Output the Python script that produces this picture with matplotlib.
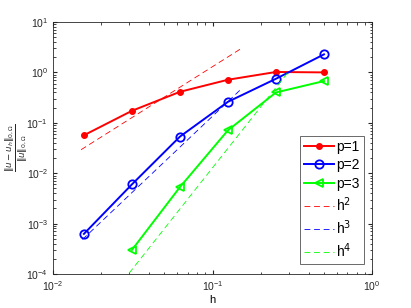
import numpy as np
import matplotlib
matplotlib.use("Agg")
import matplotlib.pyplot as plt

plt.rcParams['font.family'] = ['Liberation Sans', 'DejaVu Sans']
plt.rcParams['mathtext.fontset'] = 'dejavusans'

h = [1/64, 1/32, 1/16, 1/8, 1/4, 1/2]
err_p1 = [0.0566, 0.173, 0.412, 0.715, 1.02, 1.0]
err_p2 = [6.25e-4, 6.0e-3, 0.0532, 0.261, 0.748, 2.28]
h_p3 = [1/32, 1/16, 1/8, 1/4, 1/2]
err_p3 = [3.0e-4, 5.3e-3, 0.0711, 0.40, 0.673]

ref_h2 = [0.015, 0.15]
ref_h3 = [0.0153, 0.153]
ref_h4 = [0.03, 0.3]
ref_c = [130, 135, 128]

fig = plt.figure(figsize=(4.11, 3.08), dpi=100)
ax = fig.add_axes([53/411, 34/308, 319/411, 252/308])

ax.loglog(h, err_p1, '-', color=(1, 0, 0), lw=1.4, marker='o', ms=4, mfc=(1, 0, 0), label='p=1')
ax.loglog(h, err_p2, '-', color=(0, 0, 1), lw=1.4, marker='o', ms=6, mfc='none', mew=1.3, label='p=2')
ax.loglog(h_p3, err_p3, '-', color=(0, 1, 0), lw=1.4, marker='<', ms=6, mfc='none', mew=1.3, label='p=3')

dash = (0, (7, 4.5))
hh = np.array(ref_h2)
ax.loglog(hh, ref_c[0] * hh**2, color=(1, 0, 0), ls=dash, lw=0.6, label='h$^2$')
hh = np.array(ref_h3)
ax.loglog(hh, ref_c[1] * hh**3, color=(0, 0, 1), ls=dash, lw=0.6, label='h$^3$')
hh = np.array(ref_h4)
ax.loglog(hh, ref_c[2] * hh**4, color=(0, 1, 0), ls=dash, lw=0.6, label='h$^4$')

ax.set_xlim(1e-2, 1e0)
ax.set_ylim(1e-4, 1e1)
ax.tick_params(which='both', direction='in', top=True, right=True, labelsize=7.5, colors='#262626')
ax.tick_params(which='major', length=3)
ax.tick_params(which='minor', length=1.8)
for s in ax.spines.values():
    s.set_color('#262626')
    s.set_linewidth(0.6)

ax.set_xlabel('h', fontsize=8, labelpad=2)
ax.set_ylabel(r'$\frac{\|u-u_h\|_{0,\Omega}}{\|u\|_{0,\Omega}}$', fontsize=9, color='#262626')
ax.yaxis.set_label_coords(-0.076, 0.5)

leg = ax.legend(loc='lower right', bbox_to_anchor=(0.975, 0.04), fontsize=10, frameon=True,
                fancybox=False, edgecolor='#262626', handlelength=2.2, handletextpad=0.15,
                borderpad=0.3, labelspacing=0.32, borderaxespad=0)
leg.get_frame().set_linewidth(0.6)

fig.savefig('out.png', dpi=100)
